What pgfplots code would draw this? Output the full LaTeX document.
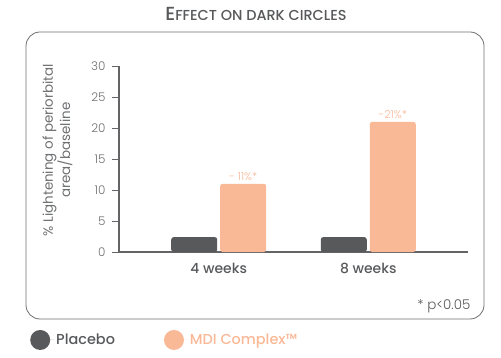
\documentclass[border=0pt]{standalone}
\usepackage{pgfplots}
\pgfplotsset{compat=1.18}
\usepackage{fontspec}
\setmainfont{Poppins}[BoldFont=Poppins Medium]
\newfontfamily\lightfont{Poppins Light}
\definecolor{dgray}{RGB}{88,89,91}
\definecolor{porange}{RGB}{249,184,150}
\definecolor{agray}{RGB}{100,100,102}
\definecolor{tgray}{RGB}{110,111,113}
\begin{document}
\begin{tikzpicture}
\useasboundingbox (0,0) rectangle (501bp,358bp);
\node[text=dgray, font=\bfseries] at (256bp,344bp) {\fontsize{19}{22}\selectfont E\fontsize{14.5}{17}\selectfont FFECT ON DARK CIRCLES};
\draw[tgray, line width=0.8bp, rounded corners=14bp] (26bp,39bp) rectangle (484bp,326bp);
\node[anchor=east, text=dgray, font=\lightfont\fontsize{13.5}{15}\selectfont] at (474bp,52bp) {* p<0.05};
\begin{axis}[
  at={(119bp,106bp)}, anchor=south west,
  scale only axis, width=349bp, height=186bp,
  xmin=-0.667, xmax=1.667, ymin=0, ymax=30,
  axis x line=bottom, axis y line=left,
  axis line style={-, agray, line width=1.2bp},
  ybar=3bp, bar width=46bp,
  xtick={0,1}, xticklabels={4 weeks, 8 weeks},
  ytick={0,5,...,30},
  x tick style={draw=none},
  y tick style={agray, line width=0.8bp},
  tick align=outside, major tick length=7bp,
  /pgf/number format/assume math mode=true,
  xticklabel style={font=\bfseries\fontsize{14}{16}\selectfont, text=dgray, yshift=-1bp},
  yticklabel style={font=\lightfont\fontsize{12}{14}\selectfont, text=tgray, xshift=-3bp},
  ylabel={\% Lightening of periorbital\\area/baseline},
  ylabel style={align=center, at={(axis description cs:-0.176,0.548)}, anchor=center, font=\fontsize{13.5}{15}\selectfont, text=tgray},
  legend columns=2,
  legend style={at={(axis description cs:-0.255,-0.473)}, anchor=west, draw=none, fill=none, inner sep=0pt,
    font=\bfseries\fontsize{14.5}{16}\selectfont,
    /tikz/every even column/.append style={column sep=47bp}},
  legend image code/.code={\fill[#1,draw=none] (10bp,0bp) circle (10bp); \path (0bp,0bp) -- (24bp,0bp);},
]
\addplot[fill=dgray, draw=none, rounded corners=2.5bp] coordinates {(0,2.4) (1,2.4)};
\addplot[fill=porange, draw=none, rounded corners=2.5bp, nodes near coords, point meta=explicit symbolic,
  every node near coord/.append style={text=porange, font=\lightfont\fontsize{11}{13}\selectfont}]
  coordinates {(0,11) [- 11\%*] (1,21) [-21\%*]};
\legend{\textcolor{dgray}{Placebo}, \textcolor{porange}{MDI Complex™}}
\end{axis}
\end{tikzpicture}
\end{document}
